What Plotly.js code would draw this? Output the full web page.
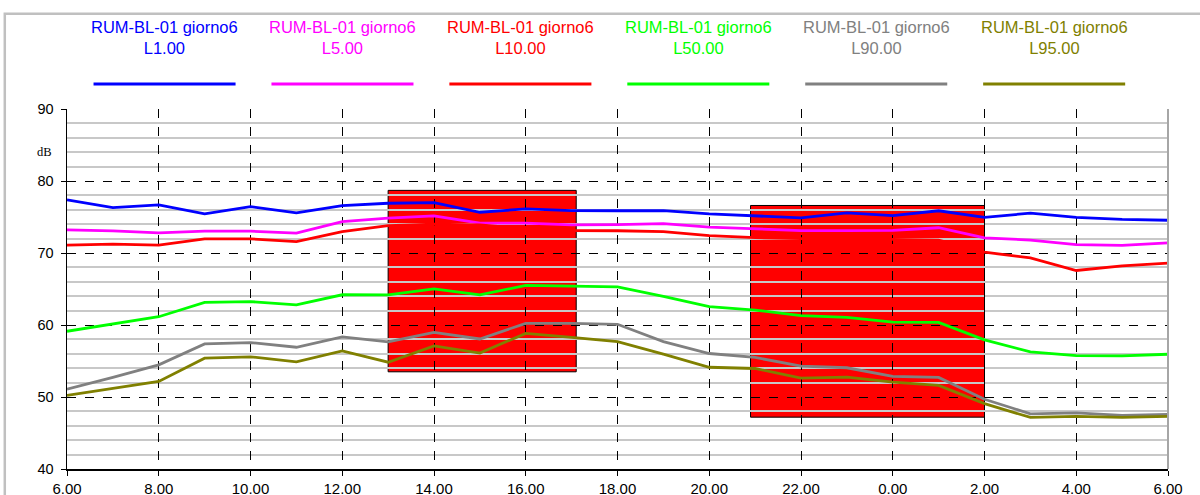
<!DOCTYPE html>
<html>
<head>
<meta charset="utf-8">
<script src="https://cdn.plot.ly/plotly-3.0.1.min.js"></script>
<style>
  html, body { margin: 0; padding: 0; background: #ffffff; }
  #chart { width: 1200px; height: 495px; }
</style>
</head>
<body>
<div id="chart"></div>
<script>
// Hours: 6.00 of day 1 to 6.00 of next day (24 = 0.00, 30 = 6.00)
var hours = [6, 7, 8, 9, 10, 11, 12, 13, 14, 15, 16, 17, 18, 19, 20, 21, 22, 23, 24, 25, 26, 27, 28, 29, 30];
var tickVals = [6, 8, 10, 12, 14, 16, 18, 20, 22, 24, 26, 28, 30];
var tickLabels = ['6.00', '8.00', '10.00', '12.00', '14.00', '16.00', '18.00', '20.00', '22.00', '0.00', '2.00', '4.00', '6.00'];

var seriesPrefix = 'RUM-BL-01 giorno6';
var seriesNames = ['L1.00', 'L5.00', 'L10.00', 'L50.00', 'L90.00', 'L95.00'];
var seriesColors = ['#0000FF', '#FF00FF', '#FF0000', '#00FF00', '#808080', '#808000'];

var L1 = [77.37, 76.31, 76.68, 75.43, 76.45, 75.57, 76.59, 76.91, 77.0, 75.66, 76.12, 75.89, 75.87,
          75.89, 75.43, 75.2, 74.88, 75.58, 75.2, 75.87, 74.96, 75.53, 74.96, 74.66, 74.55];
var L5 = [73.21, 73.07, 72.79, 73.03, 73.03, 72.75, 74.36, 74.83, 75.15, 74.14, 74.14, 73.9, 73.95,
          74.09, 73.58, 73.35, 73.12, 73.12, 73.14, 73.51, 72.1, 71.8, 71.17, 71.05, 71.4];
var L10 = [71.08, 71.22, 71.08, 71.96, 71.96, 71.59, 72.98, 73.81, 74.0, 73.9, 73.4, 73.1, 73.09,
           72.98, 72.42, 72.14, 72.0, 72.0, 71.9, 71.8, 70.11, 69.33, 67.57, 68.2, 68.59];
var L50 = [59.13, 60.12, 61.15, 63.15, 63.25, 62.8, 64.2, 64.19, 65.02, 64.19, 65.49, 65.4, 65.3,
           63.96, 62.55, 62.08, 61.29, 61.06, 60.41, 60.37, 57.93, 56.27, 55.76, 55.71, 55.94];
var L90 = [51.1, 52.72, 54.47, 57.37, 57.56, 56.91, 58.34, 57.65, 58.98, 58.06, 60.23, 60.23, 60.1,
           57.7, 56.04, 55.5, 54.29, 54.06, 52.86, 52.72, 49.68, 47.67, 47.8, 47.46, 47.57];
var L95 = [50.23, 51.24, 52.17, 55.39, 55.58, 54.88, 56.41, 54.83, 57.09, 56.11, 58.84, 58.29, 57.7,
           55.95, 54.13, 53.96, 52.63, 52.76, 52.07, 51.61, 49.08, 47.16, 47.32, 47.18, 47.3];
var seriesValues = [L1, L5, L10, L50, L90, L95];

// Highlighted periods (red blocks)
var blockStart = [13.0, 20.9];
var blockEnd = [17.1, 26.0];
var blockTop = [78.7, 76.6];
var blockBottom = [53.5, 47.2];

var FONT = '"Liberation Sans", Arial, sans-serif';

var traces = seriesValues.map(function (vals, k) {
  return {
    x: hours, y: vals, type: 'scatter', mode: 'lines',
    name: seriesPrefix + ' ' + seriesNames[k],
    line: { color: seriesColors[k], width: 2.8 },
    showlegend: false, hoverinfo: 'x+y'
  };
});

var shapes = [];
blockStart.forEach(function (s, k) {
  shapes.push({
    type: 'rect', xref: 'x', yref: 'y', layer: 'below',
    x0: s, x1: blockEnd[k], y0: blockBottom[k], y1: blockTop[k],
    fillcolor: '#FF0000', line: { color: '#000000', width: 1 }
  });
});
// right border of plot area
shapes.push({ type: 'line', xref: 'paper', yref: 'paper', x0: 1, x1: 1, y0: 0, y1: 1,
  line: { color: '#a6a6a6', width: 2 }, layer: 'above' });
// outer chart frame
shapes.push({ type: 'rect', xref: 'paper', yref: 'paper', x0: -0.0565, x1: 1.08, y0: -0.2, y1: 1.2645,
  line: { color: '#c0c0c0', width: 2.5 }, fillcolor: 'rgba(0,0,0,0)', layer: 'below' });

var annotations = [];
var legStart = 0.0886, legStep = 0.1616, segHalf = 0.0645;
seriesNames.forEach(function (nm, k) {
  var cx = legStart + k * legStep;
  annotations.push({
    xref: 'paper', yref: 'paper', x: cx, y: 1.1986, xanchor: 'center', yanchor: 'middle',
    text: seriesPrefix + '<br>' + nm, showarrow: false, align: 'center',
    font: { family: FONT, size: 16.5, color: seriesColors[k] }
  });
  shapes.push({ type: 'line', xref: 'paper', yref: 'paper', x0: cx - segHalf, x1: cx + segHalf,
    y0: 1.0694, y1: 1.0694, line: { color: seriesColors[k], width: 3.2 } });
});
annotations.push({
  xref: 'paper', yref: 'y', x: -0.02, y: 84, xanchor: 'center', yanchor: 'middle',
  text: 'dB', showarrow: false,
  font: { family: '"Liberation Serif", "Times New Roman", serif', size: 12.5, color: '#000000' }
});

var layout = {
  width: 1200, height: 495,
  margin: { l: 67, r: 32, t: 109, b: 26 },
  paper_bgcolor: '#ffffff', plot_bgcolor: '#ffffff',
  showlegend: false,
  xaxis: {
    range: [6, 30], tickmode: 'array', tickvals: tickVals, ticktext: tickLabels,
    showline: true, linecolor: '#000000', linewidth: 1.5,
    ticks: 'outside', ticklen: 5, tickcolor: '#000000', tickwidth: 1,
    showgrid: true, gridcolor: '#000000', gridwidth: 1, griddash: 'dash',
    zeroline: false,
    tickfont: { family: FONT, size: 15, color: '#000000' }
  },
  yaxis: {
    range: [40, 90], dtick: 10, tick0: 40,
    showline: true, linecolor: '#000000', linewidth: 1.5,
    ticks: 'outside', ticklen: 5, tickcolor: '#000000', tickwidth: 1,
    showgrid: true, gridcolor: '#000000', gridwidth: 1, griddash: 'dash',
    minor: { dtick: 2, showgrid: true, gridcolor: '#c8c8c8', gridwidth: 2, griddash: 'solid', ticks: '' },
    zeroline: false, ticklabelstandoff: 4,
    tickfont: { family: FONT, size: 14.5, color: '#000000' }
  },
  shapes: shapes,
  annotations: annotations
};

Plotly.newPlot('chart', traces, layout, { displayModeBar: false, staticPlot: true });
</script>
</body>
</html>
